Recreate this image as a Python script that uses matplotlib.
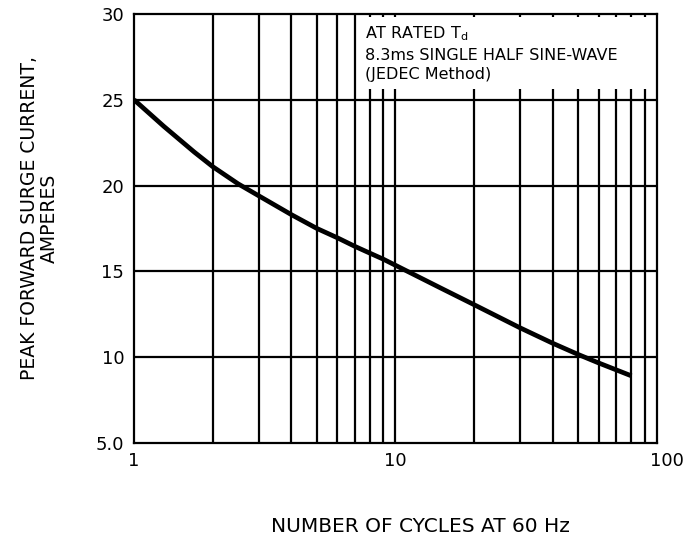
import numpy as np
import matplotlib.pyplot as plt
from matplotlib.patches import Rectangle
from matplotlib.ticker import FixedLocator, NullFormatter
from matplotlib.transforms import ScaledTranslation

plt.rcParams['font.family'] = ['DejaVu Sans']

# curve
cycles = [1, 1.3, 1.5, 1.7, 2, 2.5, 3, 4, 5, 6, 7, 8, 9, 10, 15, 20, 30, 40, 50, 60, 80]
current = [25.0, 23.45, 22.65, 21.95, 21.1, 20.1, 19.4, 18.3, 17.5, 16.95, 16.45, 16.05, 15.7, 15.35,
           14.0, 13.05, 11.7, 10.8, 10.15, 9.65, 8.9]

yticks = [5, 10, 15, 20, 25, 30]
ytick_labels = ["5.0", "10", "15", "20", "25", "30"]
xticks = [1, 10, 100]
xtick_labels = ["1", "10", "100"]
minor_x = [2, 3, 4, 5, 6, 7, 8, 9, 20, 30, 40, 50, 60, 70, 80, 90]

fig = plt.figure(figsize=(6.98, 5.38), dpi=100)
ax = fig.add_axes([0.192, 0.177, 0.749, 0.797])

ax.set_xscale("log")
ax.set_xlim(1, 100)
ax.set_ylim(5, 30)

# grid
for v in minor_x + [10]:
    ax.axvline(v, color="black", lw=1.6, zorder=1)
for h in [10, 15, 20, 25]:
    ax.axhline(h, color="black", lw=1.6, zorder=1)

ax.plot(cycles, current, color="black", lw=3.4, solid_capstyle="butt", zorder=3)

ax.xaxis.set_major_locator(FixedLocator(xticks))
ax.xaxis.set_minor_locator(FixedLocator(minor_x))
ax.xaxis.set_minor_formatter(NullFormatter())
ax.set_xticklabels(xtick_labels)
ax.set_yticks(yticks)
ax.set_yticklabels(ytick_labels)
ax.tick_params(which="both", length=0, labelsize=13, pad=7)
for s in ax.spines.values():
    s.set_linewidth(1.6)

# "100" sits a bit to the right in the original
lbl = ax.get_xticklabels()[2]
lbl.set_transform(lbl.get_transform() + ScaledTranslation(10 / 100, 0, fig.dpi_scale_trans))

# white box that hides the grid behind the note
ax.add_patch(Rectangle((0.428, 0.826), 0.569, 0.167, transform=ax.transAxes,
                       facecolor="white", edgecolor="none", zorder=2))
ax.text(0.442, 0.976, "AT RATED T$_\\mathregular{d}$\n8.3ms SINGLE HALF SINE-WAVE\n(JEDEC Method)",
        transform=ax.transAxes, ha="left", va="top", fontsize=11.5, linespacing=1.38, zorder=4)

ax.set_ylabel("PEAK FORWARD SURGE CURRENT,\nAMPERES", fontsize=13.5, linespacing=1.1)
ax.yaxis.set_label_coords(-0.143, 0.524)
ax.set_xlabel("NUMBER OF CYCLES AT 60 Hz", fontsize=14.5)
ax.xaxis.set_label_coords(0.547, -0.172)

fig.savefig("out.png", dpi=100)
